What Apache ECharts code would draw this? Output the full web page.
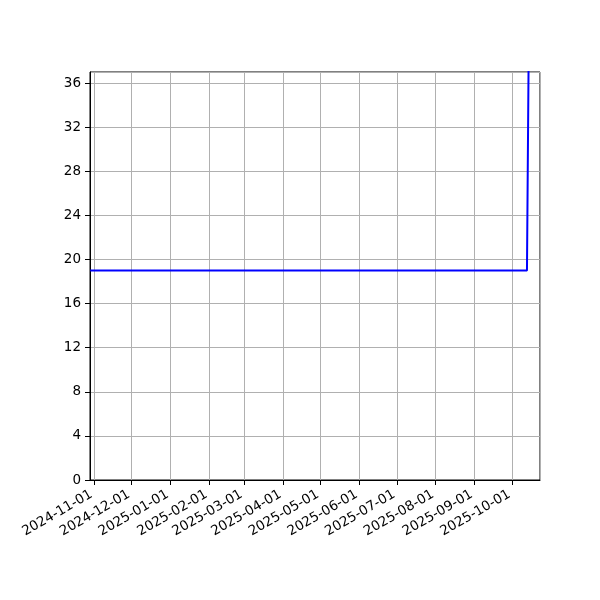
<!DOCTYPE html>
<html>
<head>
<meta charset="utf-8">
<script src="https://cdn.jsdelivr.net/npm/echarts@6/dist/echarts.min.js"></script>
<style>html,body{margin:0;padding:0;background:#fff}#c{width:600px;height:600px}</style>
</head>
<body>
<div id="c"></div>
<script>
var dates = ['2024-10-29', '2025-10-13', '2025-10-15'];
var values = [19, 19, 48];
var xMin = '2024-10-28T20:00';
var xMax = '2025-10-23T10:00';
var yTicks = [0, 4, 8, 12, 16, 20, 24, 28, 32, 36];

function toUTC(s) {
  var p = s.split('T');
  var d = p[0].split('-').map(Number);
  var h = 0, m = 0;
  if (p[1]) { var t = p[1].split(':').map(Number); h = t[0]; m = t[1] || 0; }
  return Date.UTC(d[0], d[1] - 1, d[2], h, m);
}
var DAY = 86400000;
var chart = echarts.init(document.getElementById('c'), null, {renderer: 'canvas'});
var font = 'DejaVu Sans';
chart.setOption({
  useUTC: true,
  animation: false,
  grid: {left: 90, right: 60, top: 72, bottom: 120, show: true, borderColor: '#000', borderWidth: 1, backgroundColor: 'transparent'},
  xAxis: {
    type: 'time',
    min: toUTC(xMin),
    max: toUTC(xMax),
    minInterval: 28 * DAY,
    maxInterval: 31 * DAY,
    axisLine: {show: true, lineStyle: {color: '#000', width: 1}},
    axisTick: {show: true, length: 5, inside: false, lineStyle: {color: '#000', width: 1}},
    splitLine: {show: true, lineStyle: {color: '#b0b0b0', width: 1}},
    minorTick: {show: false},
    axisLabel: {
      rotate: 30, fontFamily: font, fontSize: 13.5, color: '#000', margin: 12,
      padding: [0, 3, 0, 0],
      hideOverlap: false,
      formatter: function (v) {
        var d = new Date(v);
        var mm = ('0' + (d.getUTCMonth() + 1)).slice(-2);
        var dd = ('0' + d.getUTCDate()).slice(-2);
        return d.getUTCFullYear() + '-' + mm + '-' + dd;
      }
    }
  },
  yAxis: {
    type: 'value',
    min: 0, max: 37, interval: 4,
    axisLine: {show: true, lineStyle: {color: '#000', width: 1}},
    axisTick: {show: true, length: 5, lineStyle: {color: '#000', width: 1}},
    splitLine: {show: true, lineStyle: {color: '#b0b0b0', width: 1}},
    axisLabel: {
      fontFamily: font, fontSize: 13.5, color: '#000', margin: 9,
      showMaxLabel: false,
      formatter: function (v) { return yTicks.indexOf(v) >= 0 ? String(v) : ''; }
    }
  },
  series: [{
    type: 'line',
    data: dates.map(function (d, i) { return [toUTC(d), values[i]]; }),
    showSymbol: false,
    symbol: 'none',
    clip: true,
    lineStyle: {color: '#0000ff', width: 2}
  }]
});
</script>
</body>
</html>
